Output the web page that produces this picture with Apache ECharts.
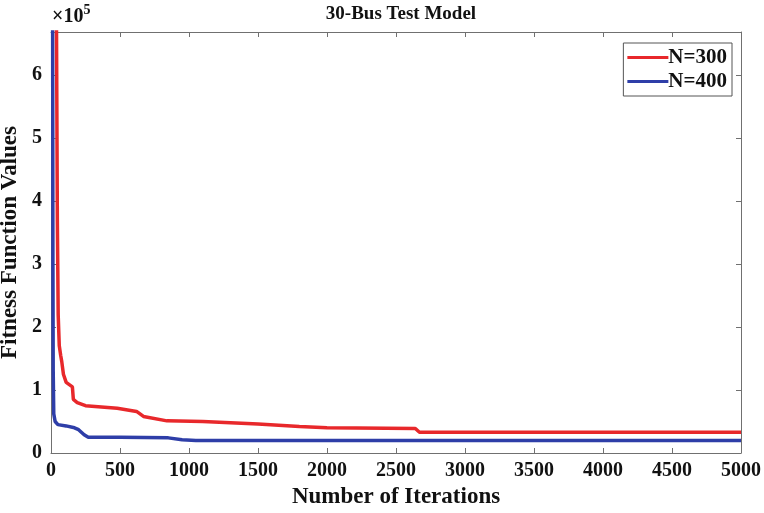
<!DOCTYPE html>
<html>
<head>
<meta charset="utf-8">
<script src="https://cdn.jsdelivr.net/npm/echarts@6/dist/echarts.min.js"></script>
<style>
  html, body { margin: 0; padding: 0; background: #fff; }
  #chart { width: 764px; height: 513px; }
</style>
</head>
<body>
<div id="chart"></div>
<script>
// convergence curves (iteration, fitness)
const seriesNames = ['N=300', 'N=400']
const redIter = [0, 40, 46, 52, 60, 70, 78, 90, 110, 155, 162, 190, 250, 480, 620, 670, 840, 1100, 1500, 1650, 1800, 2000, 2640, 2670, 5000]
const redVal = [2.0e6, 6.68e5, 3.7e5, 2.2e5, 1.7e5, 1.55e5, 1.45e5, 1.25e5, 1.12e5, 1.05e5, 0.85e5, 0.8e5, 0.75e5, 0.71e5, 0.66e5, 0.58e5, 0.51e5, 0.5e5, 0.46e5, 0.44e5, 0.42e5, 0.4e5, 0.39e5, 0.33e5, 0.33e5]
const blueIter = [0, 12, 14, 16, 20, 30, 50, 110, 170, 200, 240, 270, 500, 850, 950, 1050, 2000, 5000]
const blueVal = [9.0e5, 6.68e5, 3.0e5, 1.3e5, 0.62e5, 0.5e5, 0.45e5, 0.43e5, 0.4e5, 0.37e5, 0.29e5, 0.25e5, 0.25e5, 0.24e5, 0.21e5, 0.2e5, 0.2e5, 0.2e5]
const xTicks = [0, 500, 1000, 1500, 2000, 2500, 3000, 3500, 4000, 4500, 5000]

const font = 'Liberation Serif, Times New Roman, serif'
const axisGray = '#707070'

const pairs = (xs, ys) => xs.map((x, i) => [x, ys[i]])

const chart = echarts.init(document.getElementById('chart'))

const baseAxis = {
  axisLine: { show: true, onZero: false, lineStyle: { color: axisGray, width: 1 } },
  axisTick: { show: true, inside: true, length: 5, lineStyle: { color: axisGray } },
  splitLine: { show: false }
}

const option = {
  backgroundColor: '#fff',
  animation: false,
  title: {
    text: '30-Bus Test Model',
    left: 396,
    textAlign: 'center',
    top: 0,
    textStyle: { fontFamily: font, fontWeight: 'bold', fontSize: 19, color: '#111' }
  },
  grid: { left: 51, right: 23, top: 32, bottom: 60, outerBoundsMode: 'none' },
  legend: {
    orient: 'vertical',
    right: 32,
    top: 43,
    padding: [4, 5, 4, 4],
    itemGap: 3,
    itemWidth: 41,
    itemHeight: 3,
    icon: 'rect',
    borderColor: '#555',
    borderWidth: 1,
    backgroundColor: '#fff',
    data: seriesNames,
    textStyle: { fontFamily: font, fontWeight: 'bold', fontSize: 21, color: '#111', padding: [0, 0, 0, -5] }
  },
  graphic: [{
    type: 'text',
    left: 52,
    top: 3,
    style: {
      text: '{a|×10}{b|5}',
      rich: {
        a: { fontFamily: font, fontSize: 20, fontWeight: 'bold', fill: '#111', verticalAlign: 'bottom' },
        b: { fontFamily: font, fontSize: 14, fontWeight: 'bold', fill: '#111', verticalAlign: 'top', padding: [0, 0, 10, 0] }
      }
    }
  }],
  xAxis: [{
    ...baseAxis,
    type: 'value',
    min: 0,
    max: 5000,
    interval: 500,
    name: 'Number of Iterations',
    nameLocation: 'middle',
    nameGap: 33,
    nameTextStyle: { fontFamily: font, fontWeight: 'bold', fontSize: 23, color: '#111' },
    axisLabel: {
      fontFamily: font, fontWeight: 'bold', fontSize: 20, color: '#111', margin: 8,
      formatter: v => xTicks.includes(v) ? String(v) : ''
    }
  }, {
    ...baseAxis,
    type: 'value',
    position: 'top',
    min: 0,
    max: 5000,
    interval: 500,
    axisLabel: { show: false }
  }],
  yAxis: [{
    ...baseAxis,
    type: 'value',
    min: 0,
    max: 6.68e5,
    interval: 1e5,
    name: 'Fitness Function Values',
    nameLocation: 'middle',
    nameGap: 21,
    nameTextStyle: { fontFamily: font, fontWeight: 'bold', fontSize: 23, color: '#111' },
    axisLabel: {
      fontFamily: font, fontWeight: 'bold', fontSize: 20, color: '#111', margin: 9,
      formatter: v => v % 1e5 === 0 ? String(v / 1e5) : ''
    }
  }, {
    ...baseAxis,
    type: 'value',
    position: 'right',
    min: 0,
    max: 6.68e5,
    interval: 1e5,
    axisLabel: { show: false }
  }],
  series: [{
    name: seriesNames[0],
    type: 'line',
    data: pairs(redIter, redVal),
    showSymbol: false,
    clip: true,
    lineStyle: { color: '#e8282b', width: 3.5 },
    itemStyle: { color: '#e8282b' },
    z: 3
  }, {
    name: seriesNames[1],
    type: 'line',
    data: pairs(blueIter, blueVal),
    showSymbol: false,
    clip: true,
    lineStyle: { color: '#2e3ea8', width: 3.5 },
    itemStyle: { color: '#2e3ea8' },
    z: 2
  }]
}

chart.setOption(option)
window.addEventListener('resize', function () {
  chart.resize()
})
</script>
</body>
</html>
